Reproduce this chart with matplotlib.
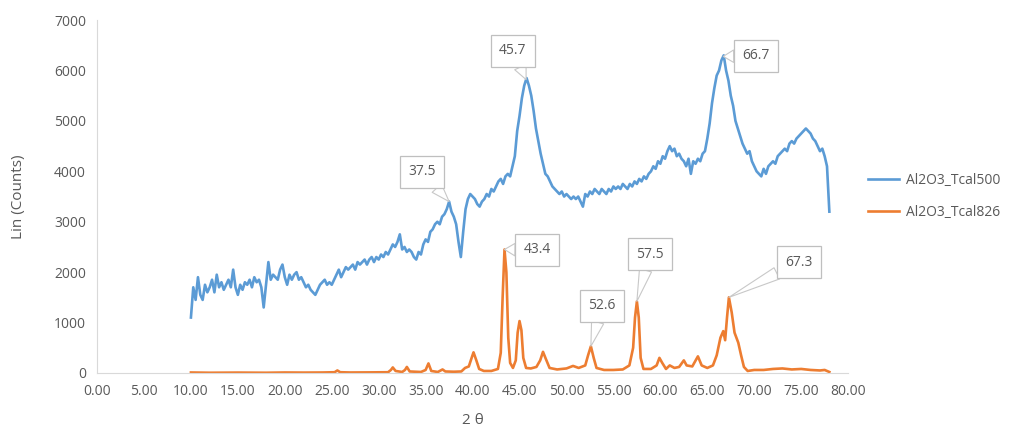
import numpy as np
import matplotlib
matplotlib.use("Agg")
import matplotlib.pyplot as plt

# 2-theta grid for the Tcal500 scan (0.25 deg steps), counts
theta_500 = np.arange(10.0, 78.01, 0.25)
counts_500 = [
    1100, 1700, 1450, 1900,  1550, 1450, 1750, 1600,  1700, 1850, 1600, 1950,
    1700, 1800, 1650, 1750,  1850, 1700, 2050, 1700,  1550, 1750, 1650, 1800,
    1750, 1850, 1700, 1900,  1800, 1850, 1700, 1300,  1750, 2200, 1850, 1950,
    1900, 1850, 2050, 2150,  1900, 1750, 1950, 1850,  1950, 2000, 1850, 1900,
    1800, 1700, 1750, 1650,  1600, 1550, 1650, 1750,  1800, 1850, 1750, 1800,
    1750, 1850, 1950, 2050,  1900, 2000, 2100, 2050,  2100, 2150, 2050, 2200,
    2150, 2200, 2250, 2150,  2250, 2300, 2200, 2300,  2250, 2350, 2300, 2400,
    2350, 2450, 2550, 2500,  2600, 2750, 2450, 2500,  2400, 2450, 2400, 2300,
    2250, 2400, 2350, 2550,  2650, 2600, 2800, 2850,  2950, 3000, 2950, 3100,
    3150, 3250, 3400, 3200,  3100, 2950, 2600, 2300,  2800, 3250, 3450, 3550,
    3500, 3450, 3350, 3300,  3400, 3450, 3550, 3500,  3650, 3600, 3700, 3800,
    3850, 3750, 3900, 3950,  3900, 4100, 4300, 4800,  5100, 5450, 5700, 5850,
    5700, 5500, 5200, 4850,  4600, 4350, 4150, 3950,  3900, 3800, 3700, 3650,
    3600, 3550, 3600, 3500,  3550, 3500, 3450, 3500,  3450, 3500, 3400, 3300,
    3550, 3500, 3600, 3550,  3650, 3600, 3550, 3650,  3600, 3550, 3650, 3600,
    3700, 3650, 3700, 3650,  3750, 3700, 3650, 3750,  3700, 3800, 3750, 3850,
    3800, 3900, 3850, 3950,  4000, 4100, 4050, 4200,  4150, 4300, 4250, 4400,
    4500, 4400, 4450, 4300,  4350, 4250, 4200, 4100,  4250, 3950, 4200, 4150,
    4250, 4200, 4350, 4400,  4650, 4950, 5350, 5650,  5900, 6000, 6200, 6300,
    6000, 5800, 5500, 5300,  5000, 4850, 4700, 4550,  4450, 4350, 4400, 4200,
    4100, 4000, 3950, 3900,  4050, 3950, 4100, 4150,  4200, 4150, 4300, 4350,
    4400, 4450, 4400, 4550,  4600, 4550, 4650, 4700,  4750, 4800, 4850, 4800,
    4750, 4650, 4600, 4500,  4400, 4450, 4300, 4100,  3200,
]

# Tcal826 scan, points picked along the trace
theta_826 = [
    10.0, 12.0, 15.0, 18.0, 20.0, 22.0, 24.0, 25.3, 25.6, 25.9, 27.0, 29.0,
    31.0, 31.3, 31.5, 31.8, 32.5, 32.8, 33.0, 33.3, 34.5, 35.0, 35.3, 35.6,
    36.3, 36.8, 37.1, 38.0, 38.8, 39.2, 39.6, 39.9, 40.1, 40.4, 40.7, 41.2,
    42.0, 42.7, 43.0, 43.2, 43.4, 43.6, 43.8, 44.0, 44.3, 44.6, 44.8, 45.0,
    45.2, 45.4, 45.7, 46.2, 46.8, 47.2, 47.5, 47.8, 48.2, 49.0, 50.0, 50.7,
    51.3, 52.0, 52.3, 52.6, 52.9, 53.2, 54.0, 55.0, 56.0, 56.7, 57.1, 57.3,
    57.5, 57.7, 57.9, 58.2, 59.0, 59.6, 59.9, 60.2, 60.6, 61.0, 61.5, 62.0,
    62.5, 62.8, 63.4, 64.0, 64.4, 65.0, 65.6, 66.0, 66.4, 66.7, 66.9, 67.1,
    67.3, 67.6, 67.9, 68.3, 68.6, 68.9, 69.3, 70.0, 71.0, 72.0, 73.0, 74.0,
    75.0, 76.0, 77.0, 77.5, 78.0,
]
counts_826 = [
    10, 5, 8, 5, 10, 8, 10, 15, 50, 15, 10, 12,
    15, 60, 110, 40, 20, 60, 120, 30, 20, 60, 190, 40,
    20, 70, 30, 25, 30, 100, 130, 300, 410, 250, 80, 40,
    40, 80, 400, 1500, 2450, 2000, 700, 200, 100, 250, 800, 1030,
    850, 300, 100, 90, 120, 250, 420, 280, 100, 70, 90, 140,
    100, 150, 350, 530, 300, 100, 60, 60, 70, 150, 500, 1100,
    1420, 1100, 300, 80, 80, 150, 300, 200, 80, 150, 100, 120,
    250, 150, 130, 330, 150, 100, 150, 350, 700, 830, 650, 1100,
    1500, 1200, 800, 600, 350, 120, 40, 60, 60, 80, 90, 70,
    80, 60, 50, 60, 20,
]

# peak callouts: (series, peak position, box centre)
peak_labels = ["37.5", "45.7", "66.7", "43.4", "52.6", "57.5", "67.3"]
peak_series = ["500", "500", "500", "826", "826", "826", "826"]
box_x = [34.6, 44.3, 70.2, 46.9, 53.8, 58.9, 74.8]
box_y = [3990, 6390, 6290, 2440, 1330, 2360, 2200]

BLUE = "#5B9BD5"
ORANGE = "#ED7D31"
GREY = "#595959"

plt.rcParams["font.family"] = ["Open Sans", "DejaVu Sans"]

fig = plt.figure(figsize=(10.15, 4.33), dpi=100)
ax = fig.add_axes([0.0956, 0.1386, 0.74, 0.815])

ax.plot(theta_500, counts_500, color=BLUE, lw=1.9, label="Al2O3_Tcal500")
ax.plot(theta_826, counts_826, color=ORANGE, lw=1.9, label="Al2O3_Tcal826")

for lab, ser, bx, by in zip(peak_labels, peak_series, box_x, box_y):
    px = float(lab)
    if ser == "500":
        py = np.interp(px, theta_500, counts_500)
    else:
        py = np.interp(px, theta_826, counts_826)
    ax.annotate(lab, xy=(px, py), xytext=(bx, by), ha="center", va="center",
                fontsize=10, color=GREY,
                bbox=dict(boxstyle="square,pad=0.6", fc="white", ec="#bfbfbf", lw=0.9),
                arrowprops=dict(arrowstyle="wedge,tail_width=0.9,shrink_factor=0.5",
                                fc="white", ec="#c8c8c8", lw=0.8,
                                shrinkA=0, shrinkB=0))

ax.set_xlim(0, 80)
ax.set_ylim(0, 7000)
ax.set_xticks(np.arange(0, 80.1, 5))
ax.set_xticklabels([f"{v:.2f}" for v in np.arange(0, 80.1, 5)])
ax.set_yticks(np.arange(0, 7001, 1000))
ax.tick_params(length=0, labelsize=10, labelcolor=GREY, pad=8)

for side in ["top", "right"]:
    ax.spines[side].set_visible(False)
ax.spines["left"].set_color("#d9d9d9")
ax.spines["bottom"].set_color("#d9d9d9")

ax.set_xlabel("2 θ", fontsize=11, color=GREY, labelpad=10)
ax.set_ylabel("Lin (Counts)", fontsize=11, color=GREY, labelpad=20)

ax.legend(loc="center left", bbox_to_anchor=(1.01, 0.50), frameon=False,
          fontsize=10, labelcolor=GREY, handlelength=2.2, handletextpad=0.5,
          labelspacing=1.2)

fig.savefig("out.png", dpi=100)
